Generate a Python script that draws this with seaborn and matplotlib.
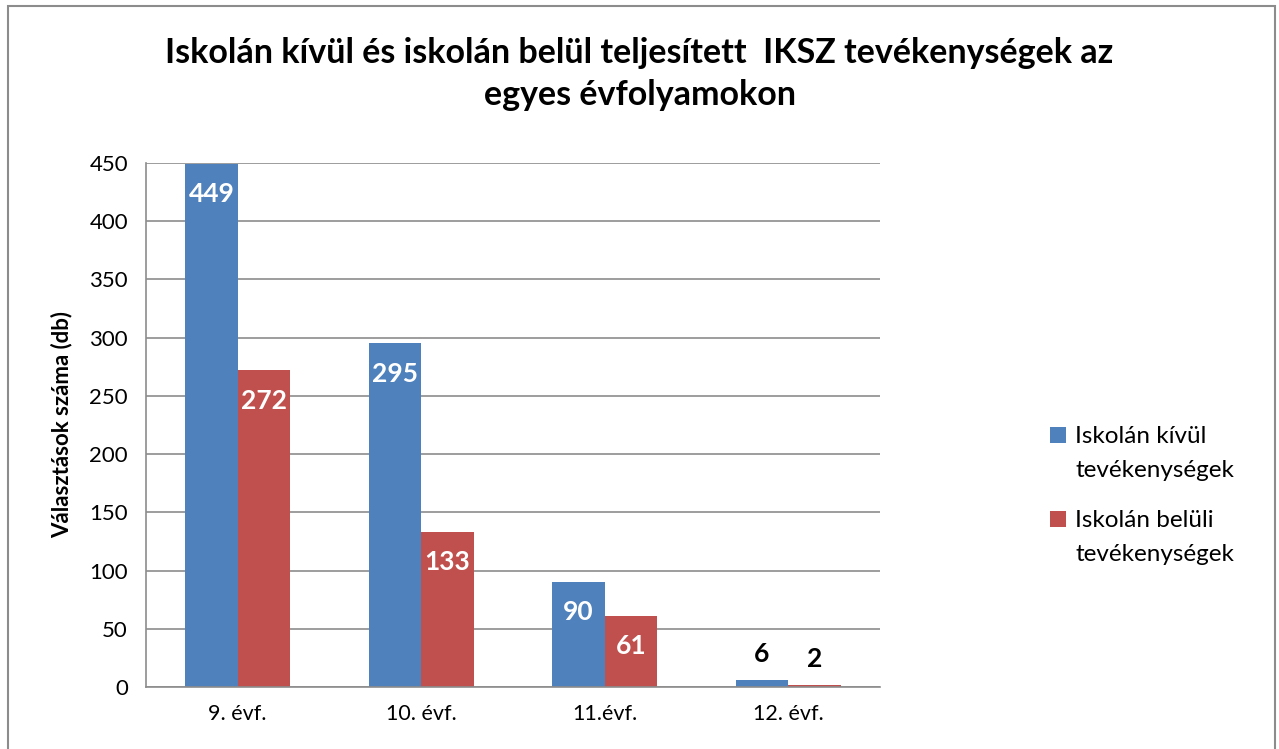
import matplotlib
matplotlib.use("Agg")
import matplotlib.pyplot as plt
import seaborn as sns
import pandas as pd
from matplotlib.patches import Rectangle

categories = ["9. évf.", "10. évf.", "11.évf.", "12. évf."]
series_names = ["Iskolán kívül\ntevékenységek", "Iskolán belüli\ntevékenységek"]
outside_values = [449, 295, 90, 6]
inside_values = [272, 133, 61, 2]
y_ticks = [0, 50, 100, 150, 200, 250, 300, 350, 400, 450]
colors = ["#4F81BD", "#C0504D"]

df = pd.DataFrame({
    "cat": categories * 2,
    "series": [series_names[0]] * 4 + [series_names[1]] * 4,
    "val": outside_values + inside_values,
})

sns.set_theme(style="white")
plt.rcParams["font.family"] = ["Lato", "DejaVu Sans"]
plt.rcParams["text.color"] = "black"
plt.rcParams["axes.labelcolor"] = "black"
plt.rcParams["xtick.color"] = "black"
plt.rcParams["ytick.color"] = "black"

fig = plt.figure(figsize=(12.79, 7.49), dpi=100)
ax = fig.add_axes([146/1279, 1 - 687/749, (880-146)/1279, (687-163)/749])

sns.barplot(data=df, x="cat", y="val", hue="series", palette=colors,
            width=0.572, ax=ax, saturation=1, legend=True, linewidth=0)

ax.set_ylim(0, 450)
ax.set_xlim(-0.5, 3.5)
ax.set_yticks(y_ticks)
ax.set_yticklabels([str(t) for t in y_ticks], fontsize=16)
ax.yaxis.grid(True, color="#8c8c8c", linewidth=1.2)
ax.set_axisbelow(True)
ax.tick_params(axis="y", length=7, color="#8c8c8c", width=1.2, pad=6, labelcolor="black")
ax.tick_params(axis="x", length=0, labelsize=15.5, pad=12, labelcolor="black")
for s in ["top", "right"]:
    ax.spines[s].set_visible(False)
for s in ["left", "bottom"]:
    ax.spines[s].set_color("#8c8c8c")
    ax.spines[s].set_linewidth(1.2)
ax.set_xlabel("")
ax.set_ylabel("Választások száma (db)", fontsize=16, fontweight="bold", labelpad=12,
              color="black")

for container in ax.containers:
    for bar in container:
        h = bar.get_height()
        xc = bar.get_x() + bar.get_width() / 2
        if h > 30:
            ax.text(xc, h - 26, f"{int(h)}", ha="center", va="center",
                    color="white", fontsize=19, fontweight="bold")
        else:
            ax.text(xc, h + 22, f"{int(h)}", ha="center", va="center",
                    color="black", fontsize=19, fontweight="bold")

leg = ax.legend(loc="upper left", bbox_to_anchor=(1028/1279, 1 - 404/749),
                bbox_transform=fig.transFigure, frameon=False, fontsize=17.5,
                handlelength=0.65, handleheight=0.65, handletextpad=0.4,
                labelspacing=1.2)
for t in leg.get_texts():
    t.set_linespacing(1.75)
    t.set_color("black")
for h in leg.legend_handles:
    h.set_y(h.get_y() + 13)

fig.text(0.5, 1 - 74/749,
         "Iskolán kívül és iskolán belül teljesített  IKSZ tevékenységek az\negyes évfolyamokon",
         ha="center", va="center", fontsize=24.5, fontweight="bold", linespacing=1.35,
         color="black")

fig.patches.append(Rectangle((8/1279, -0.01), (1275-8)/1279, 1.01 - 6/749,
                             transform=fig.transFigure, fill=False,
                             edgecolor="#8c8c8c", linewidth=1.5))

fig.savefig("out.png", dpi=100)
